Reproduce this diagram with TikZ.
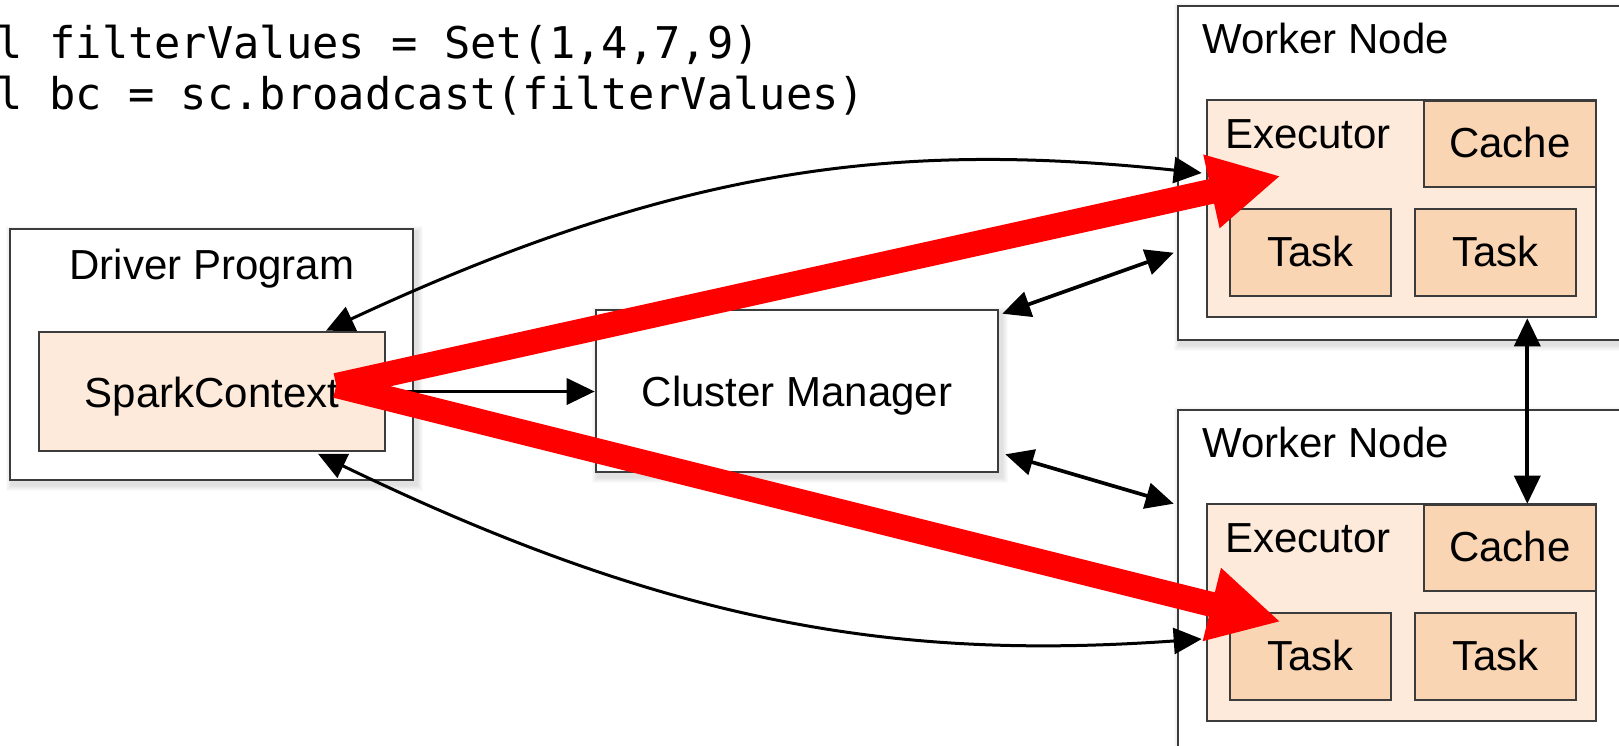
\documentclass[tikz,border=0pt]{standalone}
\usepackage{fontspec}
\setmainfont{Liberation Sans}
\newfontfamily\codefont{DejaVu Sans Mono}
\usetikzlibrary{arrows.meta,calc}
\definecolor{execfill}{HTML}{FDEADB}
\definecolor{taskfill}{HTML}{FAD5B4}
\definecolor{boxline}{HTML}{3C3C3C}
\definecolor{flowred}{HTML}{FF0000}
\pgfdeclarelayer{bg}
\pgfdeclarelayer{shade}
\pgfsetlayers{bg,shade,main}
% soft shadow below and to the right of a box
\newcommand\softshade[1]{%
  \begin{pgfonlayer}{shade}
    \foreach \s in {1,...,6}{%
      \fill[black,opacity=0.02] ($(#1.south west)+(3-\s,4+\s)$) rectangle ($(#1.north east)+(3+\s,4-\s)$);
    }
  \end{pgfonlayer}}
\begin{document}
\begin{tikzpicture}[x=1pt,y=-1pt,
  panel/.style={draw=boxline,line width=2.6pt,inner sep=0pt,fill=white},
  txt/.style={inner sep=0pt,anchor=base,font=\fontsize{42}{50}\selectfont},
  codetxt/.style={inner sep=0pt,anchor=base west,font=\codefont\fontsize{43.7}{52}\selectfont},
  conn/.style={line width=3.7pt,draw=black},
  curvedconn/.style={line width=3pt,draw=black},
  >={Triangle[length=28pt,width=26pt]},
  bcast/.style={draw=flowred,line width=25pt,-{Triangle[length=71pt,width=70pt]}}]
\useasboundingbox (0,0) rectangle (1619,745);
\clip (0,0) rectangle (1619,745);
\begin{pgfonlayer}{bg}
  \fill[white] (0,0) rectangle (1619,745);
\end{pgfonlayer}

% broadcast code
\node[codetxt] (line1) at (-56,58) {val filterValues = Set(1,4,7,9)};
\node[codetxt] (line2) at (-56,109) {val bc = sc.broadcast(filterValues)};

% driver
\node[panel,minimum width=403pt,minimum height=251pt] (drv) at (211.5,354.5) {};
\softshade{drv}
\node[txt] (drvlabel) at (212,279) {Driver Program};
\node[panel,fill=execfill,minimum width=346pt,minimum height=119pt] (sc) at (212,391.5) {};
\node[txt] (sclabel) at (212,407) {SparkContext};

% cluster manager
\node[panel,minimum width=402pt,minimum height=162pt] (cm) at (797,391) {};
\softshade{cm}
\node[txt] (cmlabel) at (797,406) {Cluster Manager};

% worker nodes
\foreach \i/\dy/\h in {1/0/334,2/404/390}{
  \node[panel,minimum width=472pt,minimum height=\h pt] (w\i) at (1414,{6+\dy+\h/2}) {};
  \softshade{w\i}
  \node[txt,anchor=base west] (w\i label) at (1202,53+\dy) {Worker Node};
  \node[panel,fill=execfill,minimum width=389pt,minimum height=217pt] (ex\i) at (1401.5,208.5+\dy) {};
  \node[txt,anchor=base west] (ex\i label) at (1225,148+\dy) {Executor};
  \node[panel,fill=taskfill,minimum width=172pt,minimum height=86pt] (ca\i) at (1510,144+\dy) {};
  \node[txt] (ca\i label) at (1510,157+\dy) {Cache};
  \node[panel,fill=taskfill,minimum width=161pt,minimum height=87pt] (t\i a) at (1310.5,252.5+\dy) {};
  \node[txt] (t\i alabel) at (1310.5,266+\dy) {Task};
  \node[panel,fill=taskfill,minimum width=161pt,minimum height=87pt] (t\i b) at (1495.5,252.5+\dy) {};
  \node[txt] (t\i blabel) at (1495.5,266+\dy) {Task};
}

% control connections
\draw[conn,->] (sc.east) -- (sc.east -| cm.west);
\draw[conn,<->] ($(cm.north east)+(3,5)$) -- ($(w1.north west)+(-3,248)$);
\draw[conn,<->] ($(cm.south east)+(6,-19)$) -- ($(w2.north west)+(-3,95)$);
\draw[conn,<->] ($(ex1.south east)+(-70,0)$) -- ($(ca2.north east)+(-70,0)$);
\draw[curvedconn,<->] ($(sc.north)+(114,0)$) .. controls (688,162) and (905,142) .. ($(ex1.west)+(-4,-35.5)$);
\draw[curvedconn,<->] ($(sc.south)+(106,1.5)$) .. controls (678,628) and (904,660) .. ($(ex2.west)+(-4,26.5)$);

% broadcast of the variable to the executors
\coordinate (bcsrc) at ($(sc.east)+(-50,-6)$);
\draw[bcast] (bcsrc) -- ($(ex1.west)+(75,-32.5)$);
\draw[bcast] (bcsrc) -- ($(t2a.north west)+(52,10)$);
\end{tikzpicture}
\end{document}
